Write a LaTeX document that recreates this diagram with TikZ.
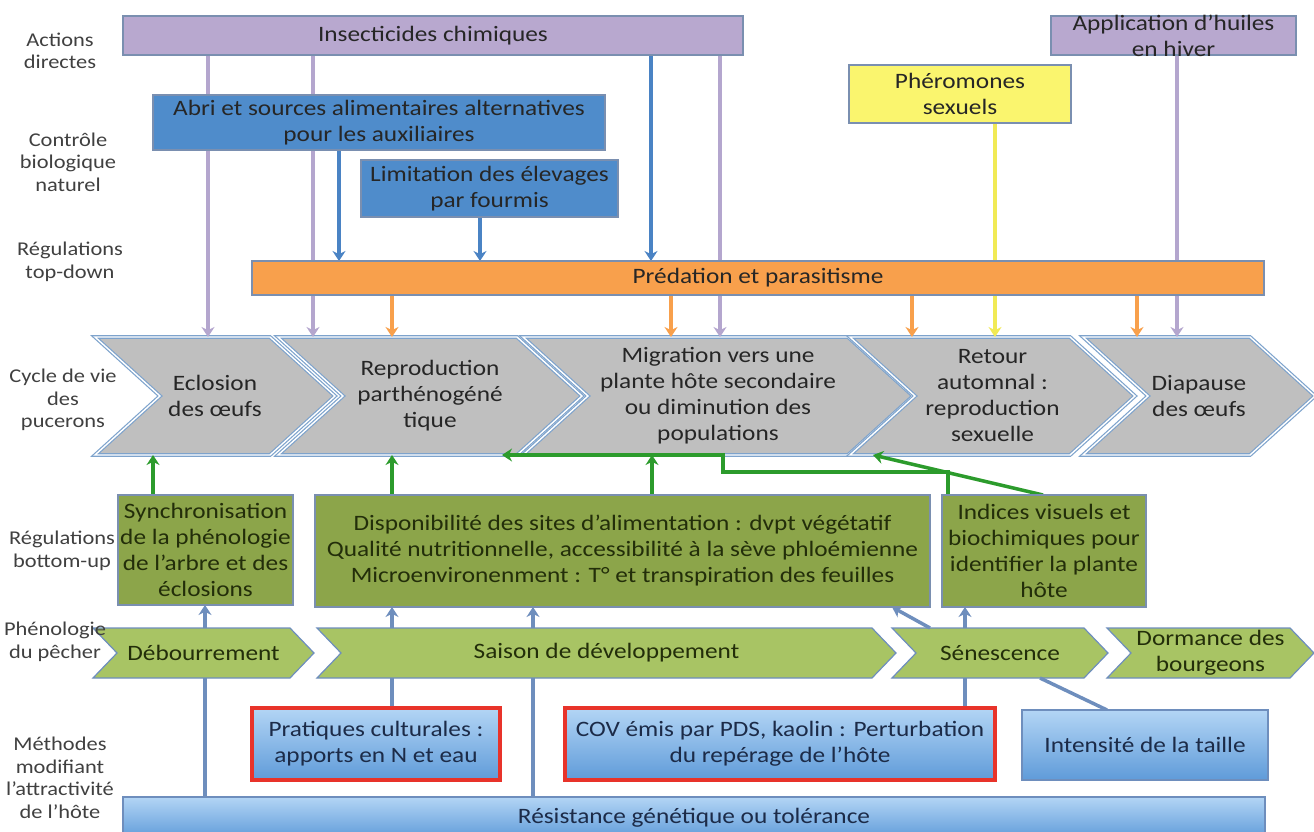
\documentclass[tikz,border=0pt]{standalone}
\usepackage{fontspec}
\setmainfont{Carlito}[FakeStretch=1.15]
\usepackage{tikz}
\usetikzlibrary{arrows.meta, backgrounds, calc}

\definecolor{apPurple}{HTML}{B8A8CF}
\definecolor{apLilac}{HTML}{B4A6CE}
\definecolor{apEdge}{HTML}{7A8FB0}
\definecolor{apBlue}{HTML}{4F8CCB}
\definecolor{apBlueLine}{HTML}{4A83C4}
\definecolor{apYellow}{HTML}{FAF56E}
\definecolor{apYellowLine}{HTML}{F1EA55}
\definecolor{apOrange}{HTML}{F8A04C}
\definecolor{apGrey}{HTML}{BFBFBF}
\definecolor{apCycleEdge}{HTML}{7EA3CC}
\definecolor{apOlive}{HTML}{8CA54A}
\definecolor{apOliveInk}{HTML}{232E0A}
\definecolor{apLime}{HTML}{A8C464}
\definecolor{apSkyTop}{HTML}{B3D5F5}
\definecolor{apSkyBot}{HTML}{5F9BD9}
\definecolor{apRed}{HTML}{E8332A}
\definecolor{apSteel}{HTML}{6E8EBD}
\definecolor{apGreen}{HTML}{2C9B2C}
\definecolor{apInk}{HTML}{262626}
\definecolor{apNavy}{HTML}{1C2B48}
\definecolor{apLabel}{HTML}{404040}

\tikzset{
  apbox/.style={rectangle, draw=apEdge, line width=1.2pt, inner sep=0pt, outer sep=0pt,
    align=center, text=apInk, font=\fontsize{22}{26}\selectfont},
  apinsect/.style={apbox, fill=apPurple},
  apaux/.style={apbox, fill=apBlue},
  apphero/.style={apbox, fill=apYellow},
  appred/.style={apbox, fill=apOrange, minimum height=34pt},
  apbottom/.style={apbox, fill=apOlive, text=apOliveInk},
  apmethod/.style={apbox, top color=apSkyTop, bottom color=apSkyBot, draw=apRed,
    line width=3.2pt, text=apNavy},
  apmethodplain/.style={apmethod, draw=apSteel, line width=1.2pt},
  apstage/.style={rectangle, inner sep=0pt, outer sep=0pt, align=center, text=apInk,
    font=\fontsize{22}{26}\selectfont, minimum height=118pt},
  apphase/.style={apstage, minimum height=50pt, text=apOliveInk},
  apcycle/.style={fill=apGrey, draw=apCycleEdge, line width=1.2pt, double=white, double distance=1.4pt},
  apseason/.style={fill=apLime, draw=apSteel, line width=1.2pt},
  aplevel/.style={align=center, text=apLabel, font=\fontsize{19.5}{22.5}\selectfont},
  aparrow/.style={-{Stealth[length=10pt, width=13pt]}},
}

\begin{document}
\begin{tikzpicture}[x=1pt, y=-1pt]
  \useasboundingbox (0,0) rectangle (1314,832);

  % Row labels on the left.
  \node[aplevel] (lv_actions) at (60,51) {Actions\\directes};
  \node[aplevel] (lv_bio) at (68,162) {Contrôle\\biologique\\naturel};
  \node[aplevel] (lv_top) at (70,262) {Régulations\\top-down};
  \node[aplevel] (lv_cycle) at (63,400) {Cycle de vie\\des\\pucerons};
  \node[aplevel] (lv_bottom) at (62,551) {Régulations\\bottom-up};
  \node[aplevel] (lv_pheno) at (55,642) {Phénologie\\du pêcher};
  \node[aplevel] (lv_method) at (60,778) {Méthodes\\modifiant\\l’attractivité\\de l’hôte};

  % Direct actions and natural biological control.
  \node[apinsect, minimum width=620pt, minimum height=39pt] (ins) at (433,35.5) {Insecticides chimiques};
  \node[apinsect, minimum width=245pt, minimum height=39pt,
    label={[align=center, text=apInk, font=\fontsize{22}{26}\selectfont]center:{Application d’huiles\\en hiver}}] (huiles) at (1173.5,35.5) {};
  \node[apaux, minimum width=452pt, minimum height=55pt] (abri) at (379,122.5) {Abri et sources alimentaires alternatives\\pour les auxiliaires};
  \node[apaux, minimum width=257pt, minimum height=57pt] (fourmis) at (489.5,188.5) {Limitation des élevages\\par fourmis};
  \node[apphero, minimum width=222pt, minimum height=58pt] (phero) at (960,94) {Phéromones\\sexuels};
  \node[appred, minimum width=1012pt] (pred) at (758,278) {Prédation et parasitisme};

  % Aphid life cycle (chevrons drawn behind).
  \node[apstage, minimum width=175pt] (ecl) at (215,396) {Eclosion\\des œufs};
  \node[apstage, minimum width=239pt] (repro) at (430,396) {Reproduction\\parthénogéné\\tique};
  \node[apstage, minimum width=325pt] (migr) at (718,396) {Migration vers une\\plante hôte secondaire\\ou diminution des\\populations};
  \node[apstage, minimum width=220pt] (retour) at (992.5,396) {Retour\\automnal :\\reproduction\\sexuelle};
  \node[apstage, minimum width=167pt] (diap) at (1199,396) {Diapause\\des œufs};

  % Bottom-up regulations.
  \node[apbottom, minimum width=175pt, minimum height=110pt] (sync) at (205.5,550) {Synchronisation\\de la phénologie\\de l’arbre et des\\éclosions};
  \node[apbottom, minimum width=615pt, minimum height=112pt] (avail) at (622.5,551) {Disponibilité des sites d’alimentation : dvpt végétatif\\Qualité nutritionnelle, accessibilité à la sève phloémienne\\Microenvironenment : T° et transpiration des feuilles};
  \node[apbottom, minimum width=204pt, minimum height=112pt] (indices) at (1044,551) {Indices visuels et\\biochimiques pour\\identifier la plante\\hôte};

  % Peach tree phenology.
  \node[apphase, minimum width=197pt] (debour) at (203.5,653) {Débourrement};
  \node[apphase, minimum width=555pt] (saison) at (606.5,653) {Saison de développement};
  \node[apphase, minimum width=192pt] (senes) at (1000,653) {Sénescence};
  \node[apphase, minimum width=183pt] (dorm) at (1210.5,653) {Dormance des\\bourgeons};

  % Methods acting on host attractiveness.
  \node[apmethod, minimum width=248pt, minimum height=72pt] (prat) at (376,744) {Pratiques culturales :\\apports en N et eau};
  \node[apmethod, minimum width=430pt, minimum height=72pt] (cov) at (780,744) {COV émis par PDS, kaolin : Perturbation\\du repérage de l’hôte};
  \node[apmethodplain, minimum width=246pt, minimum height=70pt] (taille) at (1145,745) {Intensité de la taille};
  \node[apmethodplain, minimum width=1142pt, minimum height=42pt] (resist) at (694,818) {Résistance génétique ou tolérance};

  \coordinate (g_turn) at (723,472);

  \begin{scope}[on background layer]
    % Chevron outlines.
    \foreach \n in {ecl, repro, migr, retour, diap}
      \draw[apcycle] ([xshift=-32.5pt]\n.north west) -- ([xshift=-32.5pt]\n.north east)
        -- ([xshift=32.5pt]\n.east) -- ([xshift=-32.5pt]\n.south east)
        -- ([xshift=-32.5pt]\n.south west) -- ([xshift=32.5pt]\n.west) -- cycle;
    \foreach \n in {debour, saison, senes, dorm}
      \draw[apseason] ([xshift=-12pt]\n.north west) -- ([xshift=-12pt]\n.north east)
        -- ([xshift=12pt]\n.east) -- ([xshift=-12pt]\n.south east)
        -- ([xshift=-12pt]\n.south west) -- ([xshift=12pt]\n.west) -- cycle;

    % Edges.
    \begin{scope}[apLilac, line width=4.5pt]
      \path[aparrow]
        (208,0 |- ins.south) edge (208,0 |- ecl.north)
        (313,0 |- ins.south) edge (313,0 |- repro.north)
        (720,0 |- ins.south) edge (720,0 |- migr.north)
        (1177,0 |- huiles.south) edge (1177,0 |- diap.north);
    \end{scope}
    \begin{scope}[apBlueLine, line width=3.5pt]
      \path[aparrow]
        (339,0 |- abri.south) edge (339,0 |- pred.north)
        (480,0 |- fourmis.south) edge (480,0 |- pred.north)
        (651,0 |- ins.south) edge (651,0 |- pred.north);
    \end{scope}
    \begin{scope}[apYellowLine, line width=4pt]
      \path[aparrow]
        (995,0 |- phero.south) edge (995,0 |- retour.north);
    \end{scope}
    \begin{scope}[apOrange, line width=3.5pt]
      \path[aparrow]
        (392,0 |- pred.south) edge (392,0 |- repro.north)
        (671,0 |- pred.south) edge (671,0 |- migr.north)
        (912,0 |- pred.south) edge (912,0 |- retour.north)
        (1137,0 |- pred.south) edge (1137,0 |- diap.north);
    \end{scope}

    \begin{scope}[apGreen, line width=3.5pt]
      \path[aparrow]
        (153,0 |- sync.north) edge (153,0 |- ecl.south)
        (392,0 |- avail.north) edge (392,0 |- repro.south)
        (652,0 |- avail.north) edge (652,0 |- migr.south)
        (1043,0 |- indices.north) edge (873,0 |- retour.south);
      \draw[aparrow] (948,0 |- indices.north) |- (g_turn)
        -- (g_turn |- migr.south) -- (502,0 |- migr.south);
    \end{scope}

    \begin{scope}[apSteel, line width=3.5pt]
      \path[aparrow]
        (205,0 |- resist.north) edge[-] (205,0 |- debour.south)
        (205,0 |- debour.north) edge (205,0 |- sync.south)
        (392,0 |- prat.north) edge[-] (392,0 |- saison.south)
        (392,0 |- saison.north) edge (392,0 |- avail.south)
        (533,0 |- resist.north) edge[-] (533,0 |- saison.south)
        (533,0 |- saison.north) edge (533,0 |- avail.south)
        (965,0 |- cov.north) edge[-] (965,0 |- senes.south)
        (965,0 |- senes.north) edge (965,0 |- indices.south)
        (930,0 |- senes.north) edge (892,0 |- avail.south)
        (1040,0 |- senes.south) edge[-] (1107,0 |- taille.north);
    \end{scope}
  \end{scope}
\end{tikzpicture}
\end{document}
